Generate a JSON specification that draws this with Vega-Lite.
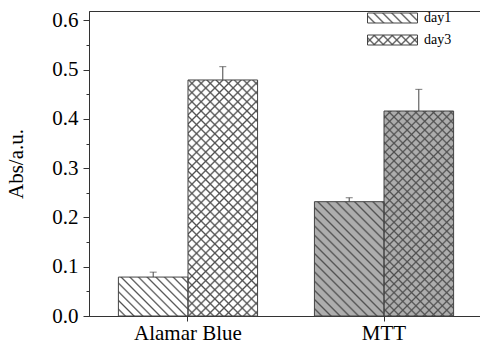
{
"$schema": "https://vega.github.io/schema/vega-lite/v6.json",
"width": 394, "height": 305,
"autosize": {"type": "none"},
"padding": {"left": 89, "top": 11, "right": 0, "bottom": 27},
"background": "#ffffff",
"config": {
  "view": {"stroke": "#333333", "strokeWidth": 1},
  "axis": {"domainColor": "#333333", "tickColor": "#333333", "labelFont": "Liberation Serif", "labelFontSize": 21, "labelColor": "#000000", "titleFont": "Liberation Serif", "titleFontSize": 21, "titleFontWeight": "normal", "titleColor": "#000000", "grid": false}
},
"data": {"values": [
  {"cat": "Alamar Blue", "day": "day1", "value": 0.079, "hi": 0.089},
  {"cat": "Alamar Blue", "day": "day3", "value": 0.479, "hi": 0.506},
  {"cat": "MTT", "day": "day1", "value": 0.232, "hi": 0.240},
  {"cat": "MTT", "day": "day3", "value": 0.416, "hi": 0.460}
]},
"encoding": {
  "x": {"field": "cat", "type": "nominal", "title": null, "scale": {"paddingInner": 0.29, "paddingOuter": 0.15}, "axis": {"labelAngle": 0, "tickSize": 5, "labelPadding": 1, "labelFont": "Liberation Serif", "labelFontSize": 21}},
  "xOffset": {"field": "day", "type": "nominal"},
  "y": {"field": "value", "type": "quantitative", "title": "Abs/a.u.", "scale": {"domain": [0, 0.619], "nice": false},
    "axis": {"values": [0, 0.05, 0.1, 0.15, 0.2, 0.25, 0.3, 0.35, 0.4, 0.45, 0.5, 0.55, 0.6],
      "labelExpr": "round(datum.value*100)%10===0 ? format(datum.value,'.1f') : ''",
      "tickSize": {"condition": {"test": "round(datum.value*100)%10!==0", "value": 3}, "value": 6},
      "labelFont": "Liberation Serif", "labelFontSize": 21, "titleFont": "Liberation Serif",
      "labelPadding": 5, "titlePadding": 25}}
},
"layer": [
  {"mark": {"type": "bar"}, "encoding": {"fill": {"condition": {"test": "datum.cat==='MTT'", "value": "#adadad"}, "value": "#ffffff"}}},
  {"transform": [{"filter": "datum.cat==='Alamar Blue' && datum.day==='day1'"}],
   "mark": {"type": "bar", "fill": {"gradient": "linear", "x1": 0, "y1": 1, "x2": 1.1879, "y2": 0.336, "stops": [
    {"offset":0,"color":"#50505000"},{"offset":0.048,"color":"#50505000"},{"offset":0.064,"color":"#505050"},
    {"offset":0.08,"color":"#50505000"},{"offset":0.128,"color":"#50505000"},{"offset":0.144,"color":"#505050"},
    {"offset":0.16,"color":"#50505000"},{"offset":0.208,"color":"#50505000"},{"offset":0.224,"color":"#505050"},
    {"offset":0.24,"color":"#50505000"},{"offset":0.288,"color":"#50505000"},{"offset":0.304,"color":"#505050"},
    {"offset":0.32,"color":"#50505000"},{"offset":0.368,"color":"#50505000"},{"offset":0.384,"color":"#505050"},
    {"offset":0.4,"color":"#50505000"},{"offset":0.448,"color":"#50505000"},{"offset":0.464,"color":"#505050"},
    {"offset":0.48,"color":"#50505000"},{"offset":0.528,"color":"#50505000"},{"offset":0.544,"color":"#505050"},
    {"offset":0.56,"color":"#50505000"},{"offset":0.608,"color":"#50505000"},{"offset":0.624,"color":"#505050"},
    {"offset":0.64,"color":"#50505000"},{"offset":0.688,"color":"#50505000"},{"offset":0.704,"color":"#505050"},
    {"offset":0.72,"color":"#50505000"},{"offset":0.768,"color":"#50505000"},{"offset":0.784,"color":"#505050"},
    {"offset":0.8,"color":"#50505000"},{"offset":0.848,"color":"#50505000"},{"offset":0.864,"color":"#505050"},
    {"offset":0.88,"color":"#50505000"},{"offset":0.928,"color":"#50505000"},{"offset":0.944,"color":"#505050"},
    {"offset":0.96,"color":"#50505000"},{"offset":1,"color":"#50505000"}]}}},
  {"transform": [{"filter": "datum.cat==='Alamar Blue' && datum.day==='day3'"}],
   "mark": {"type": "bar", "fill": {"gradient": "linear", "x1": 0, "y1": 1, "x2": 0.35134, "y2": -0.19131, "stops": [
    {"offset":0,"color":"#50505000"},{"offset":0.018,"color":"#50505000"},{"offset":0.024,"color":"#505050"},
    {"offset":0.03,"color":"#50505000"},{"offset":0.048,"color":"#50505000"},{"offset":0.054,"color":"#505050"},
    {"offset":0.06,"color":"#50505000"},{"offset":0.078,"color":"#50505000"},{"offset":0.084,"color":"#505050"},
    {"offset":0.09,"color":"#50505000"},{"offset":0.108,"color":"#50505000"},{"offset":0.114,"color":"#505050"},
    {"offset":0.12,"color":"#50505000"},{"offset":0.138,"color":"#50505000"},{"offset":0.144,"color":"#505050"},
    {"offset":0.15,"color":"#50505000"},{"offset":0.168,"color":"#50505000"},{"offset":0.174,"color":"#505050"},
    {"offset":0.18,"color":"#50505000"},{"offset":0.198,"color":"#50505000"},{"offset":0.204,"color":"#505050"},
    {"offset":0.21,"color":"#50505000"},{"offset":0.228,"color":"#50505000"},{"offset":0.234,"color":"#505050"},
    {"offset":0.24,"color":"#50505000"},{"offset":0.258,"color":"#50505000"},{"offset":0.264,"color":"#505050"},
    {"offset":0.27,"color":"#50505000"},{"offset":0.288,"color":"#50505000"},{"offset":0.294,"color":"#505050"},
    {"offset":0.3,"color":"#50505000"},{"offset":0.318,"color":"#50505000"},{"offset":0.324,"color":"#505050"},
    {"offset":0.33,"color":"#50505000"},{"offset":0.348,"color":"#50505000"},{"offset":0.354,"color":"#505050"},
    {"offset":0.36,"color":"#50505000"},{"offset":0.378,"color":"#50505000"},{"offset":0.384,"color":"#505050"},
    {"offset":0.39,"color":"#50505000"},{"offset":0.408,"color":"#50505000"},{"offset":0.414,"color":"#505050"},
    {"offset":0.42,"color":"#50505000"},{"offset":0.438,"color":"#50505000"},{"offset":0.444,"color":"#505050"},
    {"offset":0.45,"color":"#50505000"},{"offset":0.468,"color":"#50505000"},{"offset":0.474,"color":"#505050"},
    {"offset":0.48,"color":"#50505000"},{"offset":0.498,"color":"#50505000"},{"offset":0.504,"color":"#505050"},
    {"offset":0.51,"color":"#50505000"},{"offset":0.528,"color":"#50505000"},{"offset":0.534,"color":"#505050"},
    {"offset":0.54,"color":"#50505000"},{"offset":0.558,"color":"#50505000"},{"offset":0.564,"color":"#505050"},
    {"offset":0.57,"color":"#50505000"},{"offset":0.588,"color":"#50505000"},{"offset":0.594,"color":"#505050"},
    {"offset":0.6,"color":"#50505000"},{"offset":0.618,"color":"#50505000"},{"offset":0.624,"color":"#505050"},
    {"offset":0.63,"color":"#50505000"},{"offset":0.648,"color":"#50505000"},{"offset":0.654,"color":"#505050"},
    {"offset":0.66,"color":"#50505000"},{"offset":0.678,"color":"#50505000"},{"offset":0.684,"color":"#505050"},
    {"offset":0.69,"color":"#50505000"},{"offset":0.708,"color":"#50505000"},{"offset":0.714,"color":"#505050"},
    {"offset":0.72,"color":"#50505000"},{"offset":0.738,"color":"#50505000"},{"offset":0.744,"color":"#505050"},
    {"offset":0.75,"color":"#50505000"},{"offset":0.768,"color":"#50505000"},{"offset":0.774,"color":"#505050"},
    {"offset":0.78,"color":"#50505000"},{"offset":0.798,"color":"#50505000"},{"offset":0.804,"color":"#505050"},
    {"offset":0.81,"color":"#50505000"},{"offset":0.828,"color":"#50505000"},{"offset":0.834,"color":"#505050"},
    {"offset":0.84,"color":"#50505000"},{"offset":0.858,"color":"#50505000"},{"offset":0.864,"color":"#505050"},
    {"offset":0.87,"color":"#50505000"},{"offset":0.888,"color":"#50505000"},{"offset":0.894,"color":"#505050"},
    {"offset":0.9,"color":"#50505000"},{"offset":0.918,"color":"#50505000"},{"offset":0.924,"color":"#505050"},
    {"offset":0.93,"color":"#50505000"},{"offset":0.948,"color":"#50505000"},{"offset":0.954,"color":"#505050"},
    {"offset":0.96,"color":"#50505000"},{"offset":0.978,"color":"#50505000"},{"offset":0.984,"color":"#505050"},
    {"offset":0.99,"color":"#50505000"},{"offset":1,"color":"#50505000"}]}}},
  {"transform": [{"filter": "datum.cat==='MTT' && datum.day==='day1'"}],
   "mark": {"type": "bar", "fill": {"gradient": "linear", "x1": 0, "y1": 1, "x2": 0.71471, "y2": -0.17372, "stops": [
    {"offset":0,"color":"#50505000"},{"offset":0.03,"color":"#50505000"},{"offset":0.04,"color":"#505050"},
    {"offset":0.05,"color":"#50505000"},{"offset":0.08,"color":"#50505000"},{"offset":0.09,"color":"#505050"},
    {"offset":0.1,"color":"#50505000"},{"offset":0.13,"color":"#50505000"},{"offset":0.14,"color":"#505050"},
    {"offset":0.15,"color":"#50505000"},{"offset":0.18,"color":"#50505000"},{"offset":0.19,"color":"#505050"},
    {"offset":0.2,"color":"#50505000"},{"offset":0.23,"color":"#50505000"},{"offset":0.24,"color":"#505050"},
    {"offset":0.25,"color":"#50505000"},{"offset":0.28,"color":"#50505000"},{"offset":0.29,"color":"#505050"},
    {"offset":0.3,"color":"#50505000"},{"offset":0.33,"color":"#50505000"},{"offset":0.34,"color":"#505050"},
    {"offset":0.35,"color":"#50505000"},{"offset":0.38,"color":"#50505000"},{"offset":0.39,"color":"#505050"},
    {"offset":0.4,"color":"#50505000"},{"offset":0.43,"color":"#50505000"},{"offset":0.44,"color":"#505050"},
    {"offset":0.45,"color":"#50505000"},{"offset":0.48,"color":"#50505000"},{"offset":0.49,"color":"#505050"},
    {"offset":0.5,"color":"#50505000"},{"offset":0.53,"color":"#50505000"},{"offset":0.54,"color":"#505050"},
    {"offset":0.55,"color":"#50505000"},{"offset":0.58,"color":"#50505000"},{"offset":0.59,"color":"#505050"},
    {"offset":0.6,"color":"#50505000"},{"offset":0.63,"color":"#50505000"},{"offset":0.64,"color":"#505050"},
    {"offset":0.65,"color":"#50505000"},{"offset":0.68,"color":"#50505000"},{"offset":0.69,"color":"#505050"},
    {"offset":0.7,"color":"#50505000"},{"offset":0.73,"color":"#50505000"},{"offset":0.74,"color":"#505050"},
    {"offset":0.75,"color":"#50505000"},{"offset":0.78,"color":"#50505000"},{"offset":0.79,"color":"#505050"},
    {"offset":0.8,"color":"#50505000"},{"offset":0.83,"color":"#50505000"},{"offset":0.84,"color":"#505050"},
    {"offset":0.85,"color":"#50505000"},{"offset":0.88,"color":"#50505000"},{"offset":0.89,"color":"#505050"},
    {"offset":0.9,"color":"#50505000"},{"offset":0.93,"color":"#50505000"},{"offset":0.94,"color":"#505050"},
    {"offset":0.95,"color":"#50505000"},{"offset":0.98,"color":"#50505000"},{"offset":0.99,"color":"#505050"},
    {"offset":1,"color":"#50505000"}]}}},
  {"transform": [{"filter": "datum.cat==='MTT' && datum.day==='day3'"}],
   "mark": {"type": "bar", "fill": {"gradient": "linear", "x1": 0, "y1": 1, "x2": 0.40778, "y2": -0.20107, "stops": [
    {"offset":0,"color":"#50505000"},{"offset":0.0192,"color":"#50505000"},{"offset":0.0256,"color":"#505050"},
    {"offset":0.032,"color":"#50505000"},{"offset":0.0512,"color":"#50505000"},{"offset":0.0576,"color":"#505050"},
    {"offset":0.064,"color":"#50505000"},{"offset":0.0832,"color":"#50505000"},{"offset":0.0896,"color":"#505050"},
    {"offset":0.096,"color":"#50505000"},{"offset":0.1152,"color":"#50505000"},{"offset":0.1216,"color":"#505050"},
    {"offset":0.128,"color":"#50505000"},{"offset":0.1472,"color":"#50505000"},{"offset":0.1536,"color":"#505050"},
    {"offset":0.16,"color":"#50505000"},{"offset":0.1792,"color":"#50505000"},{"offset":0.1856,"color":"#505050"},
    {"offset":0.192,"color":"#50505000"},{"offset":0.2112,"color":"#50505000"},{"offset":0.2176,"color":"#505050"},
    {"offset":0.224,"color":"#50505000"},{"offset":0.2432,"color":"#50505000"},{"offset":0.2496,"color":"#505050"},
    {"offset":0.256,"color":"#50505000"},{"offset":0.2752,"color":"#50505000"},{"offset":0.2816,"color":"#505050"},
    {"offset":0.288,"color":"#50505000"},{"offset":0.3072,"color":"#50505000"},{"offset":0.3136,"color":"#505050"},
    {"offset":0.32,"color":"#50505000"},{"offset":0.3392,"color":"#50505000"},{"offset":0.3456,"color":"#505050"},
    {"offset":0.352,"color":"#50505000"},{"offset":0.3712,"color":"#50505000"},{"offset":0.3776,"color":"#505050"},
    {"offset":0.384,"color":"#50505000"},{"offset":0.4032,"color":"#50505000"},{"offset":0.4096,"color":"#505050"},
    {"offset":0.416,"color":"#50505000"},{"offset":0.4352,"color":"#50505000"},{"offset":0.4416,"color":"#505050"},
    {"offset":0.448,"color":"#50505000"},{"offset":0.4672,"color":"#50505000"},{"offset":0.4736,"color":"#505050"},
    {"offset":0.48,"color":"#50505000"},{"offset":0.4992,"color":"#50505000"},{"offset":0.5056,"color":"#505050"},
    {"offset":0.512,"color":"#50505000"},{"offset":0.5312,"color":"#50505000"},{"offset":0.5376,"color":"#505050"},
    {"offset":0.544,"color":"#50505000"},{"offset":0.5632,"color":"#50505000"},{"offset":0.5696,"color":"#505050"},
    {"offset":0.576,"color":"#50505000"},{"offset":0.5952,"color":"#50505000"},{"offset":0.6016,"color":"#505050"},
    {"offset":0.608,"color":"#50505000"},{"offset":0.6272,"color":"#50505000"},{"offset":0.6336,"color":"#505050"},
    {"offset":0.64,"color":"#50505000"},{"offset":0.6592,"color":"#50505000"},{"offset":0.6656,"color":"#505050"},
    {"offset":0.672,"color":"#50505000"},{"offset":0.6912,"color":"#50505000"},{"offset":0.6976,"color":"#505050"},
    {"offset":0.704,"color":"#50505000"},{"offset":0.7232,"color":"#50505000"},{"offset":0.7296,"color":"#505050"},
    {"offset":0.736,"color":"#50505000"},{"offset":0.7552,"color":"#50505000"},{"offset":0.7616,"color":"#505050"},
    {"offset":0.768,"color":"#50505000"},{"offset":0.7872,"color":"#50505000"},{"offset":0.7936,"color":"#505050"},
    {"offset":0.8,"color":"#50505000"},{"offset":0.8192,"color":"#50505000"},{"offset":0.8256,"color":"#505050"},
    {"offset":0.832,"color":"#50505000"},{"offset":0.8512,"color":"#50505000"},{"offset":0.8576,"color":"#505050"},
    {"offset":0.864,"color":"#50505000"},{"offset":0.8832,"color":"#50505000"},{"offset":0.8896,"color":"#505050"},
    {"offset":0.896,"color":"#50505000"},{"offset":0.9152,"color":"#50505000"},{"offset":0.9216,"color":"#505050"},
    {"offset":0.928,"color":"#50505000"},{"offset":0.9472,"color":"#50505000"},{"offset":0.9536,"color":"#505050"},
    {"offset":0.96,"color":"#50505000"},{"offset":0.9792,"color":"#50505000"},{"offset":0.9856,"color":"#505050"},
    {"offset":0.992,"color":"#50505000"},{"offset":1,"color":"#50505000"}]}}},
  {"transform": [{"filter": "datum.cat==='Alamar Blue' && datum.day==='day3'"}],
   "mark": {"type": "bar", "fill": {"gradient": "linear", "x1": 0, "y1": 0, "x2": 0.35134, "y2": 1.19131, "stops": [
    {"offset":0,"color":"#50505000"},{"offset":0.018,"color":"#50505000"},{"offset":0.024,"color":"#505050"},
    {"offset":0.03,"color":"#50505000"},{"offset":0.048,"color":"#50505000"},{"offset":0.054,"color":"#505050"},
    {"offset":0.06,"color":"#50505000"},{"offset":0.078,"color":"#50505000"},{"offset":0.084,"color":"#505050"},
    {"offset":0.09,"color":"#50505000"},{"offset":0.108,"color":"#50505000"},{"offset":0.114,"color":"#505050"},
    {"offset":0.12,"color":"#50505000"},{"offset":0.138,"color":"#50505000"},{"offset":0.144,"color":"#505050"},
    {"offset":0.15,"color":"#50505000"},{"offset":0.168,"color":"#50505000"},{"offset":0.174,"color":"#505050"},
    {"offset":0.18,"color":"#50505000"},{"offset":0.198,"color":"#50505000"},{"offset":0.204,"color":"#505050"},
    {"offset":0.21,"color":"#50505000"},{"offset":0.228,"color":"#50505000"},{"offset":0.234,"color":"#505050"},
    {"offset":0.24,"color":"#50505000"},{"offset":0.258,"color":"#50505000"},{"offset":0.264,"color":"#505050"},
    {"offset":0.27,"color":"#50505000"},{"offset":0.288,"color":"#50505000"},{"offset":0.294,"color":"#505050"},
    {"offset":0.3,"color":"#50505000"},{"offset":0.318,"color":"#50505000"},{"offset":0.324,"color":"#505050"},
    {"offset":0.33,"color":"#50505000"},{"offset":0.348,"color":"#50505000"},{"offset":0.354,"color":"#505050"},
    {"offset":0.36,"color":"#50505000"},{"offset":0.378,"color":"#50505000"},{"offset":0.384,"color":"#505050"},
    {"offset":0.39,"color":"#50505000"},{"offset":0.408,"color":"#50505000"},{"offset":0.414,"color":"#505050"},
    {"offset":0.42,"color":"#50505000"},{"offset":0.438,"color":"#50505000"},{"offset":0.444,"color":"#505050"},
    {"offset":0.45,"color":"#50505000"},{"offset":0.468,"color":"#50505000"},{"offset":0.474,"color":"#505050"},
    {"offset":0.48,"color":"#50505000"},{"offset":0.498,"color":"#50505000"},{"offset":0.504,"color":"#505050"},
    {"offset":0.51,"color":"#50505000"},{"offset":0.528,"color":"#50505000"},{"offset":0.534,"color":"#505050"},
    {"offset":0.54,"color":"#50505000"},{"offset":0.558,"color":"#50505000"},{"offset":0.564,"color":"#505050"},
    {"offset":0.57,"color":"#50505000"},{"offset":0.588,"color":"#50505000"},{"offset":0.594,"color":"#505050"},
    {"offset":0.6,"color":"#50505000"},{"offset":0.618,"color":"#50505000"},{"offset":0.624,"color":"#505050"},
    {"offset":0.63,"color":"#50505000"},{"offset":0.648,"color":"#50505000"},{"offset":0.654,"color":"#505050"},
    {"offset":0.66,"color":"#50505000"},{"offset":0.678,"color":"#50505000"},{"offset":0.684,"color":"#505050"},
    {"offset":0.69,"color":"#50505000"},{"offset":0.708,"color":"#50505000"},{"offset":0.714,"color":"#505050"},
    {"offset":0.72,"color":"#50505000"},{"offset":0.738,"color":"#50505000"},{"offset":0.744,"color":"#505050"},
    {"offset":0.75,"color":"#50505000"},{"offset":0.768,"color":"#50505000"},{"offset":0.774,"color":"#505050"},
    {"offset":0.78,"color":"#50505000"},{"offset":0.798,"color":"#50505000"},{"offset":0.804,"color":"#505050"},
    {"offset":0.81,"color":"#50505000"},{"offset":0.828,"color":"#50505000"},{"offset":0.834,"color":"#505050"},
    {"offset":0.84,"color":"#50505000"},{"offset":0.858,"color":"#50505000"},{"offset":0.864,"color":"#505050"},
    {"offset":0.87,"color":"#50505000"},{"offset":0.888,"color":"#50505000"},{"offset":0.894,"color":"#505050"},
    {"offset":0.9,"color":"#50505000"},{"offset":0.918,"color":"#50505000"},{"offset":0.924,"color":"#505050"},
    {"offset":0.93,"color":"#50505000"},{"offset":0.948,"color":"#50505000"},{"offset":0.954,"color":"#505050"},
    {"offset":0.96,"color":"#50505000"},{"offset":0.978,"color":"#50505000"},{"offset":0.984,"color":"#505050"},
    {"offset":0.99,"color":"#50505000"},{"offset":1,"color":"#50505000"}]}}},
  {"transform": [{"filter": "datum.cat==='MTT' && datum.day==='day3'"}],
   "mark": {"type": "bar", "fill": {"gradient": "linear", "x1": 0, "y1": 0, "x2": 0.40778, "y2": 1.20107, "stops": [
    {"offset":0,"color":"#50505000"},{"offset":0.0192,"color":"#50505000"},{"offset":0.0256,"color":"#505050"},
    {"offset":0.032,"color":"#50505000"},{"offset":0.0512,"color":"#50505000"},{"offset":0.0576,"color":"#505050"},
    {"offset":0.064,"color":"#50505000"},{"offset":0.0832,"color":"#50505000"},{"offset":0.0896,"color":"#505050"},
    {"offset":0.096,"color":"#50505000"},{"offset":0.1152,"color":"#50505000"},{"offset":0.1216,"color":"#505050"},
    {"offset":0.128,"color":"#50505000"},{"offset":0.1472,"color":"#50505000"},{"offset":0.1536,"color":"#505050"},
    {"offset":0.16,"color":"#50505000"},{"offset":0.1792,"color":"#50505000"},{"offset":0.1856,"color":"#505050"},
    {"offset":0.192,"color":"#50505000"},{"offset":0.2112,"color":"#50505000"},{"offset":0.2176,"color":"#505050"},
    {"offset":0.224,"color":"#50505000"},{"offset":0.2432,"color":"#50505000"},{"offset":0.2496,"color":"#505050"},
    {"offset":0.256,"color":"#50505000"},{"offset":0.2752,"color":"#50505000"},{"offset":0.2816,"color":"#505050"},
    {"offset":0.288,"color":"#50505000"},{"offset":0.3072,"color":"#50505000"},{"offset":0.3136,"color":"#505050"},
    {"offset":0.32,"color":"#50505000"},{"offset":0.3392,"color":"#50505000"},{"offset":0.3456,"color":"#505050"},
    {"offset":0.352,"color":"#50505000"},{"offset":0.3712,"color":"#50505000"},{"offset":0.3776,"color":"#505050"},
    {"offset":0.384,"color":"#50505000"},{"offset":0.4032,"color":"#50505000"},{"offset":0.4096,"color":"#505050"},
    {"offset":0.416,"color":"#50505000"},{"offset":0.4352,"color":"#50505000"},{"offset":0.4416,"color":"#505050"},
    {"offset":0.448,"color":"#50505000"},{"offset":0.4672,"color":"#50505000"},{"offset":0.4736,"color":"#505050"},
    {"offset":0.48,"color":"#50505000"},{"offset":0.4992,"color":"#50505000"},{"offset":0.5056,"color":"#505050"},
    {"offset":0.512,"color":"#50505000"},{"offset":0.5312,"color":"#50505000"},{"offset":0.5376,"color":"#505050"},
    {"offset":0.544,"color":"#50505000"},{"offset":0.5632,"color":"#50505000"},{"offset":0.5696,"color":"#505050"},
    {"offset":0.576,"color":"#50505000"},{"offset":0.5952,"color":"#50505000"},{"offset":0.6016,"color":"#505050"},
    {"offset":0.608,"color":"#50505000"},{"offset":0.6272,"color":"#50505000"},{"offset":0.6336,"color":"#505050"},
    {"offset":0.64,"color":"#50505000"},{"offset":0.6592,"color":"#50505000"},{"offset":0.6656,"color":"#505050"},
    {"offset":0.672,"color":"#50505000"},{"offset":0.6912,"color":"#50505000"},{"offset":0.6976,"color":"#505050"},
    {"offset":0.704,"color":"#50505000"},{"offset":0.7232,"color":"#50505000"},{"offset":0.7296,"color":"#505050"},
    {"offset":0.736,"color":"#50505000"},{"offset":0.7552,"color":"#50505000"},{"offset":0.7616,"color":"#505050"},
    {"offset":0.768,"color":"#50505000"},{"offset":0.7872,"color":"#50505000"},{"offset":0.7936,"color":"#505050"},
    {"offset":0.8,"color":"#50505000"},{"offset":0.8192,"color":"#50505000"},{"offset":0.8256,"color":"#505050"},
    {"offset":0.832,"color":"#50505000"},{"offset":0.8512,"color":"#50505000"},{"offset":0.8576,"color":"#505050"},
    {"offset":0.864,"color":"#50505000"},{"offset":0.8832,"color":"#50505000"},{"offset":0.8896,"color":"#505050"},
    {"offset":0.896,"color":"#50505000"},{"offset":0.9152,"color":"#50505000"},{"offset":0.9216,"color":"#505050"},
    {"offset":0.928,"color":"#50505000"},{"offset":0.9472,"color":"#50505000"},{"offset":0.9536,"color":"#505050"},
    {"offset":0.96,"color":"#50505000"},{"offset":0.9792,"color":"#50505000"},{"offset":0.9856,"color":"#505050"},
    {"offset":0.992,"color":"#50505000"},{"offset":1,"color":"#50505000"}]}}},
  {"transform": [{"filter": "datum.day==='day3'"}],
   "mark": {"type": "bar", "fillOpacity": 0, "fill": {"gradient": "linear", "x1": 0, "y1": 0, "x2": 1.1538, "y2": 0.2308, "stops": [
         {"offset":0,"color":"#50505000"},{"offset":0.09,"color":"#50505000"},{"offset":0.12,"color":"#505050"},
         {"offset":0.15,"color":"#50505000"},{"offset":0.24,"color":"#50505000"},{"offset":0.27,"color":"#505050"},
         {"offset":0.3,"color":"#50505000"},{"offset":0.39,"color":"#50505000"},{"offset":0.42,"color":"#505050"},
         {"offset":0.45,"color":"#50505000"},{"offset":0.54,"color":"#50505000"},{"offset":0.57,"color":"#505050"},
         {"offset":0.6,"color":"#50505000"},{"offset":0.69,"color":"#50505000"},{"offset":0.72,"color":"#505050"},
         {"offset":0.75,"color":"#50505000"},{"offset":0.84,"color":"#50505000"},{"offset":0.87,"color":"#505050"},
         {"offset":0.9,"color":"#50505000"},{"offset":1,"color":"#50505000"}]}},
   "encoding": {"opacity": {"field": "day", "type": "nominal", "scale": {"range": [1, 1]},
     "legend": {"orient": "none", "legendX": 296.5, "legendY": 22, "title": null, "padding": 0, "symbolType": "M-5,-1H5V1H-5Z", "symbolSize": 100, "symbolStrokeWidth": 1, "labelFont": "Liberation Serif", "labelFontSize": 14, "labelOffset": 24.5, "labelOpacity": 0}}}},
  {"mark": {"type": "bar", "fillOpacity": 0, "strokeWidth": 1, "fill": {"gradient": "linear", "x1": 0, "y1": 1, "x2": 1.1538, "y2": 0.7692, "stops": [
         {"offset":0,"color":"#50505000"},{"offset":0.09,"color":"#50505000"},{"offset":0.12,"color":"#505050"},
         {"offset":0.15,"color":"#50505000"},{"offset":0.24,"color":"#50505000"},{"offset":0.27,"color":"#505050"},
         {"offset":0.3,"color":"#50505000"},{"offset":0.39,"color":"#50505000"},{"offset":0.42,"color":"#505050"},
         {"offset":0.45,"color":"#50505000"},{"offset":0.54,"color":"#50505000"},{"offset":0.57,"color":"#505050"},
         {"offset":0.6,"color":"#50505000"},{"offset":0.69,"color":"#50505000"},{"offset":0.72,"color":"#505050"},
         {"offset":0.75,"color":"#50505000"},{"offset":0.84,"color":"#50505000"},{"offset":0.87,"color":"#505050"},
         {"offset":0.9,"color":"#50505000"},{"offset":1,"color":"#50505000"}]}},
   "encoding": {"stroke": {"field": "day", "type": "nominal", "scale": {"range": ["#444444", "#444444"]},
     "legend": {"orient": "none", "legendX": 296.5, "legendY": 0, "title": null, "padding": 0, "rowPadding": 8, "symbolType": "M-5,-1H5V1H-5Z", "symbolSize": 100, "symbolStrokeWidth": 1, "labelFont": "Liberation Serif", "labelFontSize": 14, "labelColor": "#000000", "labelOffset": 24.5}}}},
  {"mark": {"type": "rule", "color": "#444444", "strokeWidth": 1}, "encoding": {"y2": {"field": "hi"}}},
  {"mark": {"type": "tick", "color": "#444444", "thickness": 1, "size": 7, "orient": "horizontal"},
   "encoding": {"y": {"field": "hi", "type": "quantitative", "title": "Abs/a.u."}}}
]
}
